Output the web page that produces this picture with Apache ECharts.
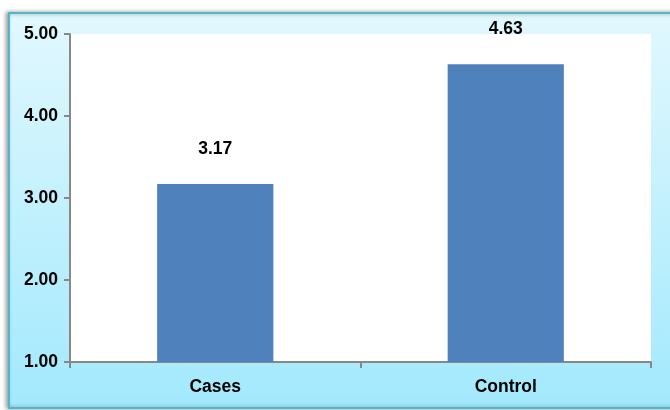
<!DOCTYPE html>
<html lang="en">
<head>
    <meta charset="UTF-8">
    <title></title>
    <script src="https://cdn.jsdelivr.net/npm/echarts@6/dist/echarts.min.js"></script>
    <style>
        body { margin: 0; background: #fff; }
    </style>
</head>
<body>
<div id="main" style="width: 670px;height:410px;"></div>

<script type="text/javascript">
    var categories = ['Cases', 'Control'];
    var values = [3.17, 4.63];
    var yTicks = ['1.00', '2.00', '3.00', '4.00', '5.00'];

    var myChart = echarts.init(document.getElementById('main'));
    var font = '"Liberation Sans", Arial, sans-serif';

    var option = {
        backgroundColor: '#fff',
        animation: false,
        graphic: [{
            type: 'rect',
            z: -10,
            shape: {x: 9, y: 13, width: 680, height: 395},
            style: {
                fill: new echarts.graphic.LinearGradient(0, 0, 0, 1, [
                    {offset: 0, color: '#e2f8fe'},
                    {offset: 1, color: '#a2e9fd'}
                ]),
                stroke: '#52b6ca',
                lineWidth: 2,
                shadowBlur: 4,
                shadowColor: 'rgba(0,0,0,0.35)',
                shadowOffsetX: -2
            }
        }],
        grid: {
            left: 70,
            top: 34,
            right: 19,
            bottom: 48,
            show: true,
            backgroundColor: '#fff',
            borderWidth: 0
        },
        xAxis: {
            type: 'category',
            data: categories,
            axisLine: {lineStyle: {color: '#888', width: 2}},
            axisTick: {show: true, length: 6, lineStyle: {color: '#888', width: 2}},
            axisLabel: {
                margin: 16,
                color: '#000',
                fontWeight: 'bold',
                fontSize: 17.5,
                fontFamily: font
            }
        },
        yAxis: {
            type: 'value',
            min: 1,
            max: 5,
            interval: 1,
            splitLine: {show: false},
            axisLine: {show: true, lineStyle: {color: '#888', width: 2}},
            axisTick: {show: true, length: 6, lineStyle: {color: '#888', width: 2}},
            axisLabel: {
                margin: 12,
                color: '#000',
                fontWeight: 'bold',
                fontSize: 17.5,
                fontFamily: font,
                formatter: function (v) {
                    return yTicks[Math.round(v) - 1];
                }
            }
        },
        series: [{
            type: 'bar',
            data: values,
            barWidth: '40%',
            itemStyle: {color: '#4f81bd'},
            label: {
                show: true,
                position: 'top',
                distance: 26,
                color: '#000',
                fontWeight: 'bold',
                fontSize: 17.5,
                fontFamily: font,
                formatter: function (p) {
                    return p.value.toFixed(2);
                }
            }
        }]
    };
    myChart.setOption(option);
</script>
</body>
</html>
